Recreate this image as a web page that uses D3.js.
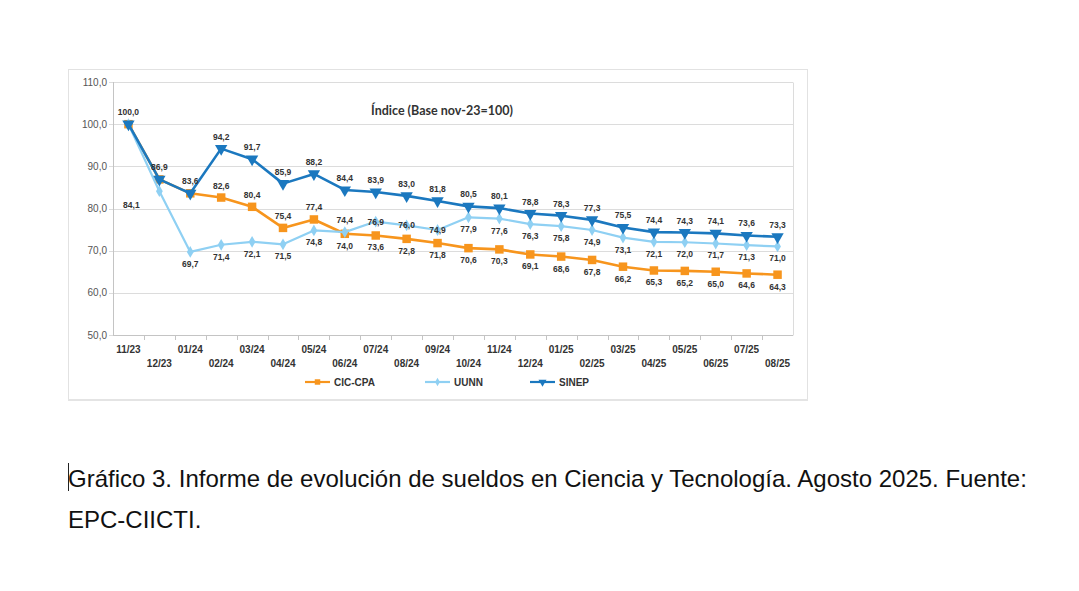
<!DOCTYPE html>
<html><head><meta charset="utf-8">
<script src="https://cdn.jsdelivr.net/npm/d3@7"></script>
<style>html,body{margin:0;padding:0;background:#fff;}svg{display:block;}</style>
</head><body>
<svg id="c" width="1079" height="591"></svg>
<script>
const categories = ["11/23","12/23","01/24","02/24","03/24","04/24","05/24","06/24","07/24","08/24","09/24","10/24","11/24","12/24","01/25","02/25","03/25","04/25","05/25","06/25","07/25","08/25"];
const cicCpa = [100.0,86.9,83.6,82.6,80.4,75.4,77.4,74.0,73.6,72.8,71.8,70.6,70.3,69.1,68.6,67.8,66.2,65.3,65.2,65.0,64.6,64.3];
const uunn   = [100.0,84.1,69.7,71.4,72.1,71.5,74.8,74.4,76.9,76.0,74.9,77.9,77.6,76.3,75.8,74.9,73.1,72.1,72.0,71.7,71.3,71.0];
const sinep  = [100.0,86.9,83.6,94.2,91.7,85.9,88.2,84.4,83.9,83.0,81.8,80.5,80.1,78.8,78.3,77.3,75.5,74.4,74.3,74.1,73.6,73.3];
// label placement: a = above, b = below, c = centred, l = below-left, "" = none
const cicLabelPos   = ["","","","a","a","a","a","b","b","b","b","b","b","b","b","b","b","b","b","b","b","b"];
const uunnLabelPos  = ["","l","b","b","b","b","b","a","c","c","c","b","b","b","b","b","b","b","b","b","b","b"];
const sinepLabelPos = ["a","a","a","a","a","a","a","a","a","a","a","a","a","a","a","a","a","a","a","a","a","a"];
const yTicks = [50,60,70,80,90,100,110];
const seriesNames = ["CIC-CPA","UUNN","SINEP"];
const chartTitle = "Índice (Base nov-23=100)";
const captionLines = ["Gráfico 3. Informe de evolución de sueldos en Ciencia y Tecnología. Agosto 2025. Fuente:","EPC-CIICTI."];

const svg = d3.select("#c");
const fmt = v => d3.format(".1f")(v).replace(".", ",");

svg.append("rect").attr("x",68.5).attr("y",69.5).attr("width",739).attr("height",330)
  .attr("fill","#fff").attr("stroke","#e2e2e2").attr("stroke-width",1);
svg.append("line").attr("x1",68).attr("x2",808).attr("y1",400).attr("y2",400).attr("stroke","#e4e4e4").attr("stroke-width",2);

const x = d3.scaleBand().domain(categories).range([113, 793]).padding(0);
const y = d3.scaleLinear().domain([50,110]).range([335, 82]);
const cx = c => x(c) + x.bandwidth()/2;

const g = svg.append("g");
g.selectAll("line.grid").data(yTicks).join("line")
  .attr("x1",109).attr("x2",793).attr("y1",d=>Math.round(y(d))+0.5).attr("y2",d=>Math.round(y(d))+0.5)
  .attr("stroke","#dcdcdc").attr("stroke-width",1);
g.append("line").attr("x1",793.5).attr("x2",793.5).attr("y1",Math.round(y(110))+0.5).attr("y2",Math.round(y(50))+0.5).attr("stroke","#dcdcdc");
g.append("line").attr("x1",113.5).attr("x2",113.5).attr("y1",Math.round(y(110))).attr("y2",Math.round(y(50))+1).attr("stroke","#c4c4c4");
g.append("line").attr("x1",113).attr("x2",793).attr("y1",Math.round(y(50))+0.5).attr("y2",Math.round(y(50))+0.5).attr("stroke","#c4c4c4");
g.selectAll("line.xt").data(categories.slice(1)).join("line")
  .attr("x1",d=>Math.round(x(d))+0.5).attr("x2",d=>Math.round(x(d))+0.5)
  .attr("y1",Math.round(y(50))).attr("y2",Math.round(y(50))+5).attr("stroke","#c4c4c4");

g.selectAll("text.yl").data(yTicks).join("text")
  .attr("x",107).attr("y",d=>y(d)).attr("dy","0.35em").attr("text-anchor","end")
  .attr("font-family","Liberation Sans, Arial, sans-serif").attr("font-size",10).attr("fill","#555")
  .text(d=>fmt(d));

g.selectAll("text.xl").data(categories).join("text")
  .attr("x",d=>cx(d)).attr("y",(d,i)=> i%2===0 ? 353 : 367).attr("text-anchor","middle")
  .attr("font-family","Liberation Sans, Arial, sans-serif").attr("font-size",10).attr("font-weight","bold").attr("fill","#333")
  .text(d=>d);

svg.append("text").attr("x",442).attr("y",115).attr("text-anchor","middle")
  .attr("font-family","Lato, 'Open Sans', sans-serif").attr("font-weight","bold").attr("font-size",12.5).attr("fill","#333")
  .text(chartTitle);

const colors = {cic:"#f7951d", uunn:"#8fd0f3", sinep:"#1b78bf"};
const line = d3.line().x((d,i)=>cx(categories[i])).y(d=>y(d));

function drawSeries(vals, color, width, sym, size, rot){
  svg.append("path").datum(vals).attr("d",line).attr("fill","none").attr("stroke",color)
    .attr("stroke-width",width).attr("stroke-linejoin","round");
  svg.append("g").selectAll("path").data(vals).join("path")
    .attr("d",d3.symbol().type(sym).size(size))
    .attr("transform",(d,i)=>`translate(${cx(categories[i])},${y(d)}) rotate(${rot})`)
    .attr("fill",color);
}
drawSeries(cicCpa, colors.cic, 2.6, d3.symbolSquare, 72, 0);
drawSeries(uunn, colors.uunn, 2.2, d3.symbolDiamond, 40, 0);
drawSeries(sinep, colors.sinep, 2.6, d3.symbolTriangle, 66, 180);

function drawLabels(vals, pos){
  const items = vals.map((v,i)=>({v, i, p:pos[i], c:categories[i]})).filter(d=>d.p!=="");
  svg.append("g").selectAll("text").data(items).join("text")
    .attr("x",d=>cx(d.c) + (d.p==="l" ? -28 : 0))
    .attr("y",d=>{
      const yy = y(d.v);
      if (d.p==="a") return yy - 12;
      if (d.p==="b") return yy + 12;
      if (d.p==="l") return yy + 14;
      return yy;
    })
    .attr("dy","0.35em").attr("text-anchor","middle")
    .attr("font-family","Liberation Sans, Arial, sans-serif").attr("font-size",8.5).attr("font-weight","bold").attr("fill","#333")
    .text(d=>fmt(d.v));
}
drawLabels(cicCpa, cicLabelPos);
drawLabels(uunn, uunnLabelPos);
drawLabels(sinep, sinepLabelPos);

const legend = [
  {name:seriesNames[0], color:colors.cic, sym:d3.symbolSquare, size:30, rot:0, x0:305},
  {name:seriesNames[1], color:colors.uunn, sym:d3.symbolDiamond, size:20, rot:0, x0:425},
  {name:seriesNames[2], color:colors.sinep, sym:d3.symbolTriangle, size:28, rot:180, x0:530}
];
const lg = svg.append("g").selectAll("g").data(legend).join("g").attr("transform",d=>`translate(${d.x0},382)`);
lg.append("line").attr("x1",0).attr("x2",25).attr("y1",0).attr("y2",0).attr("stroke",d=>d.color).attr("stroke-width",2.2);
lg.append("path").attr("d",d=>d3.symbol().type(d.sym).size(d.size)()).attr("transform",d=>`translate(12.5,0) rotate(${d.rot})`).attr("fill",d=>d.color);
lg.append("text").attr("x",29).attr("y",0).attr("dy","0.35em")
  .attr("font-family","Liberation Sans, Arial, sans-serif").attr("font-size",10).attr("font-weight","bold").attr("fill","#333")
  .text(d=>d.name);

svg.append("g").selectAll("text").data(captionLines).join("text")
  .attr("x",68).attr("y",(d,i)=>487 + i*41)
  .attr("font-family","Liberation Sans, Arial, Helvetica, sans-serif").attr("font-size",24).attr("fill","#111")
  .text(d=>d);
svg.append("line").attr("x1",68.5).attr("x2",68.5).attr("y1",463).attr("y2",491).attr("stroke","#222").attr("stroke-width",1);
</script>
</body></html>
